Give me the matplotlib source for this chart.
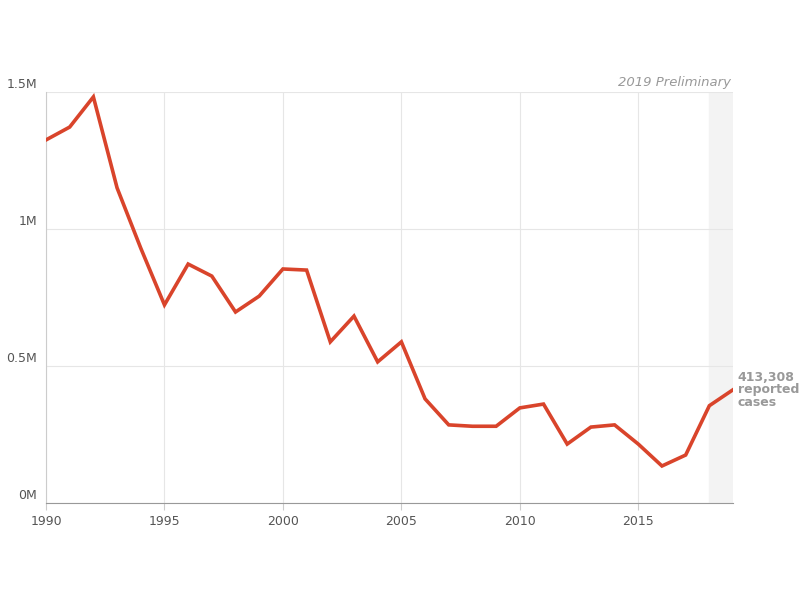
import matplotlib
matplotlib.use("Agg")
import matplotlib.pyplot as plt

years = list(range(1990, 2020))
cases = [1.325e6, 1.372e6, 1.482e6, 1.15e6, 0.93e6, 0.723e6, 0.872e6, 0.828e6, 0.697e6, 0.755e6,
         0.854e6, 0.850e6, 0.588e6, 0.682e6, 0.515e6, 0.588e6, 0.38e6, 0.285e6, 0.28e6, 0.28e6,
         0.347e6, 0.361e6, 0.215e6, 0.277e6, 0.285e6, 0.215e6, 0.135e6, 0.175e6, 0.355e6, 413308]
xticks = [1990, 1995, 2000, 2005, 2010, 2015]
yticks = [0, 0.5e6, 1e6, 1.5e6]
ylabels = ["0M", "0.5M", "1M", "1.5M"]

fig = plt.figure(figsize=(8, 6), dpi=100)
ax = fig.add_axes([0.0575, 0.1617, 0.8588, 0.685])
ax.axvspan(2018, 2019, color="#f3f3f3", zorder=0)
ax.plot(years, cases, color="#d9442b", lw=2.6, zorder=3, solid_joinstyle="miter")
ax.set_xlim(1990, 2019)
ax.set_ylim(0, 1.5e6)
ax.set_xticks(xticks)
ax.set_yticks(yticks)
ax.set_yticklabels([])
ax.grid(color="#e6e6e6", lw=0.8)
ax.set_axisbelow(True)
for s in ["top", "right"]:
    ax.spines[s].set_visible(False)
ax.spines["left"].set_color("#cccccc")
ax.spines["bottom"].set_color("#999999")
ax.tick_params(axis="y", length=0)
ax.tick_params(axis="x", length=5, color="#cccccc", labelsize=9, colors="#555555")
trans = ax.get_yaxis_transform()
for v, lab in zip(yticks, ylabels):
    ax.text(-0.013, v + 0.004e6, lab, transform=trans, ha="right", va="bottom",
            fontsize=9, color="#555555", clip_on=False)
ax.text(2018.9, 1.51e6, "2019 Preliminary", style="italic", color="#999999",
        fontsize=9.5, ha="right", va="bottom")
ax.text(2019.2, 0.413e6, "413,308\nreported\ncases", color="#999999", fontsize=9,
        fontweight="bold", ha="left", va="center", linespacing=0.95, clip_on=False)
fig.savefig("out.png", dpi=100)
